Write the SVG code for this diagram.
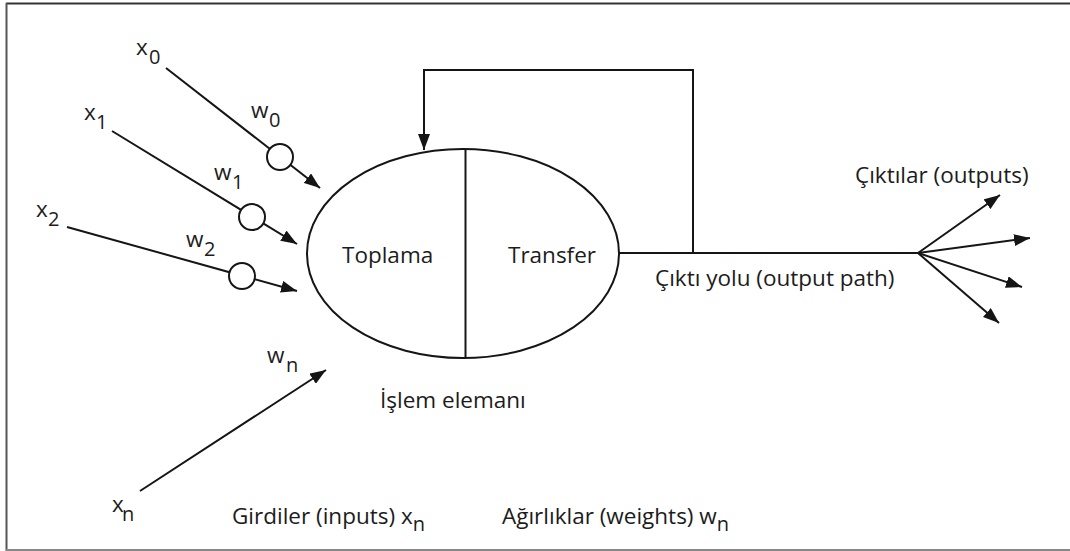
<svg xmlns="http://www.w3.org/2000/svg" width="1070" height="551" viewBox="0 0 1070 551">
  <style>
    .ln { stroke: #151515; stroke-width: 2; fill: none; }
    .arr { marker-end: url(#head); }
    .wt { fill: #fff; stroke: #151515; stroke-width: 2; }
    text { font-family: "Open Sans", "Liberation Sans", sans-serif; font-size: 22.5px; fill: #1c1c1c; }
    .sub { font-size: 20px; }
  </style>
  <defs>
    <marker id="head" viewBox="0 0 16 12" refX="16" refY="6" markerWidth="16" markerHeight="12" markerUnits="userSpaceOnUse" orient="auto">
      <path d="M0,0 L16,6 L0,12 z" fill="#151515"/>
    </marker>
  </defs>

  <rect width="1070" height="551" fill="#fff"/>
  <!-- frame -->
  <line x1="6" y1="3.5" x2="1070" y2="3.5" stroke="#333" stroke-width="2"/>
  <line x1="6.5" y1="3" x2="6.5" y2="551" stroke="#555" stroke-width="2"/>
  <line x1="6" y1="550" x2="1070" y2="550" stroke="#888" stroke-width="2"/>

  <!-- connectors -->
  <g id="connectors">
    <line class="ln arr" x1="166" y1="68" x2="320" y2="188"/>
    <line class="ln arr" x1="112" y1="131" x2="297" y2="244"/>
    <line class="ln arr" x1="67" y1="227" x2="297" y2="291"/>
    <line class="ln arr" x1="140" y1="491" x2="326" y2="370"/>
    <polyline class="ln arr" points="693,253 693,70 424,70 424,150"/>
    <line class="ln" x1="619" y1="253" x2="918" y2="253"/>
    <line class="ln arr" x1="918" y1="253" x2="1000" y2="195"/>
    <line class="ln arr" x1="918" y1="253" x2="1030" y2="238"/>
    <line class="ln arr" x1="918" y1="253" x2="1022" y2="287"/>
    <line class="ln arr" x1="918" y1="253" x2="999" y2="323"/>
  </g>

  <!-- weight nodes -->
  <g id="weight-0"><circle class="wt" cx="280" cy="157" r="13"/></g>
  <g id="weight-1"><circle class="wt" cx="252" cy="217" r="13"/></g>
  <g id="weight-2"><circle class="wt" cx="242" cy="276" r="13"/></g>

  <!-- processing element -->
  <g id="processing-element">
    <ellipse class="ln" cx="463" cy="253.5" rx="156" ry="104.5"/>
    <line class="ln" x1="465.5" y1="149" x2="465.5" y2="358"/>
    <text x="342" y="263">Toplama</text>
    <text x="508" y="263">Transfer</text>
  </g>

  <!-- labels -->
  <g id="labels">
    <text x="136" y="55">x<tspan class="sub" x="149" y="64">0</tspan></text>
    <text x="84" y="120">x<tspan class="sub" x="96" y="129">1</tspan></text>
    <text x="36" y="217">x<tspan class="sub" x="48" y="226">2</tspan></text>
    <text x="112" y="512">x<tspan class="sub" x="122" y="521">n</tspan></text>
    <text x="251" y="118">w<tspan class="sub" x="269" y="127">0</tspan></text>
    <text x="214" y="180">w<tspan class="sub" x="232" y="189">1</tspan></text>
    <text x="186" y="247">w<tspan class="sub" x="204" y="256">2</tspan></text>
    <text x="267" y="363">w<tspan class="sub" x="286" y="372">n</tspan></text>
    <text x="380" y="408">İşlem elemanı</text>
    <text x="655" y="286">Çıktı yolu (output path)</text>
    <text x="855" y="183">Çıktılar (outputs)</text>
    <text x="232" y="524">Girdiler (inputs) x<tspan class="sub" dy="7">n</tspan></text>
    <text x="502" y="524">Ağırlıklar (weights) w<tspan class="sub" dy="7">n</tspan></text>
  </g>
</svg>
